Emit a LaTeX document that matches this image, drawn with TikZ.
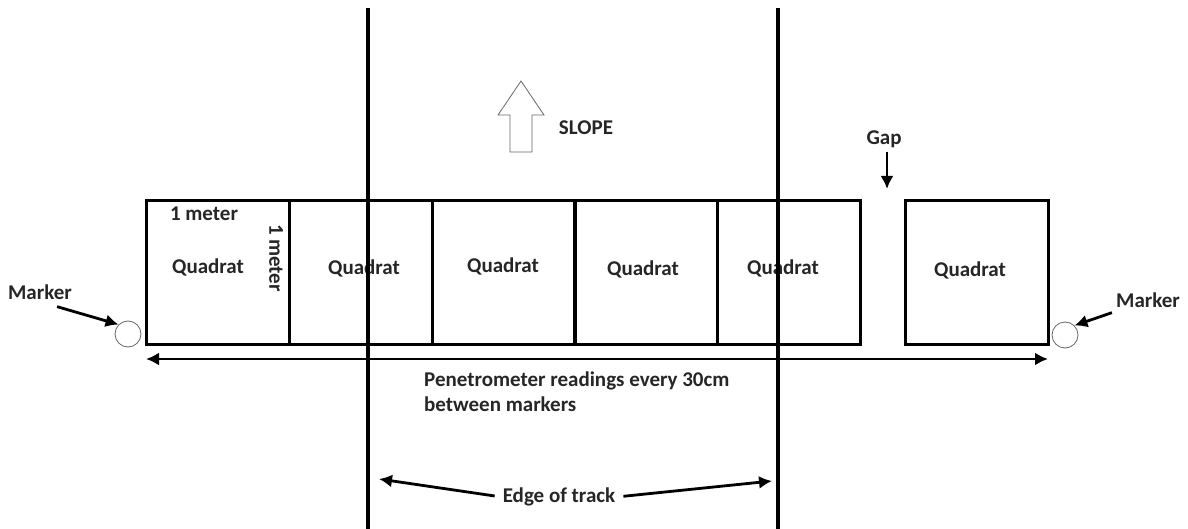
\documentclass[tikz,border=0pt]{standalone}
\usepackage{fontspec}
\setmainfont{Carlito}
\usetikzlibrary{arrows.meta}
\tikzset{
    quad/.style={draw,line width=3pt,minimum width=143pt,minimum height=143pt,inner sep=0pt},
    lbl/.style={font=\fontsize{21}{25}\selectfont\bfseries,text=black!85,inner sep=1pt},
    marker/.style={circle,draw=black!60,line width=0.8pt,minimum size=26pt,inner sep=0pt},
    track/.style={line width=4pt},
    pointer/.style={line width=2.8pt,->},
}
\begin{document}
\begin{tikzpicture}[x=1pt,y=-1pt,>={Latex[length=13pt,width=13pt]}]
\useasboundingbox (0,0) rectangle (1188,529);
% quadrats
\node[quad] (q1) at (217.5,272.5) {};
\node[quad] (q2) at (360.5,272.5) {};
\node[quad] (q3) at (503.5,272.5) {};
\node[quad] (q4) at (646,272.5) {};
\node[quad] (q5) at (788.5,272.5) {};
\node[quad] (q6) at (976.5,272.5) {};
\node[lbl] (t1) at (208,267) {Quadrat};
\node[lbl] (t2) at (364,268) {Quadrat};
\node[lbl] (t3) at (503,266) {Quadrat};
\node[lbl] (t4) at (643,269) {Quadrat};
\node[lbl] (t5) at (783,268) {Quadrat};
\node[lbl] (t6) at (970,270) {Quadrat};
\node[lbl] (mw) at (204,214) {1 meter};
\node[lbl,rotate=-90] (mh) at (276,258) {1 meter};

% markers
\node[marker] (cl) at (128,334) {};
\node[marker] (cr) at (1065,335) {};
\node[lbl] (ml) at (40,292) {Marker};
\node[lbl] (mr) at (1148,300) {Marker};
\draw[pointer] (ml.south east) ++(-16,6) -- (cl.north west);
\draw[pointer] (mr.south west) ++(-3,4) -- (cr.north east);

% readings
\coordinate (pl) at (146,359);
\coordinate (pr) at (1048,359);
\draw[line width=2.8pt,<->] (pl) -- (pr);
\node[lbl,anchor=north west,align=left] (pen) at (423,371) {Penetrometer readings every 30cm\\between markers};

% edge of track
\coordinate (l1) at (368,8);
\coordinate (l2) at (368,529);
\coordinate (r1) at (778,8);
\coordinate (r2) at (778,529);
\draw[track] (l1) -- (l2);
\draw[track] (r1) -- (r2);
\node[lbl] (edge) at (559,497) {Edge of track};
\coordinate (el) at (379,479);
\coordinate (er) at (772,481);
\draw[pointer,shorten <=7pt] (edge.west) -- (el);
\draw[pointer,shorten <=7pt] (edge.east) -- (er);

% gap
\node[lbl] (gap) at (884,139) {Gap};
\coordinate (gapend) at (887,189);
\draw[pointer] (gap.south) ++(3,3) -- (gapend);

% slope
\draw[black!60,line width=0.8pt] (510,152)--(510,115)--(498,115)--(521,81)--(544,115)--(532,115)--(532,152)--cycle;
\node[lbl] (slope) at (586,128) {SLOPE};
\end{tikzpicture}
\end{document}
